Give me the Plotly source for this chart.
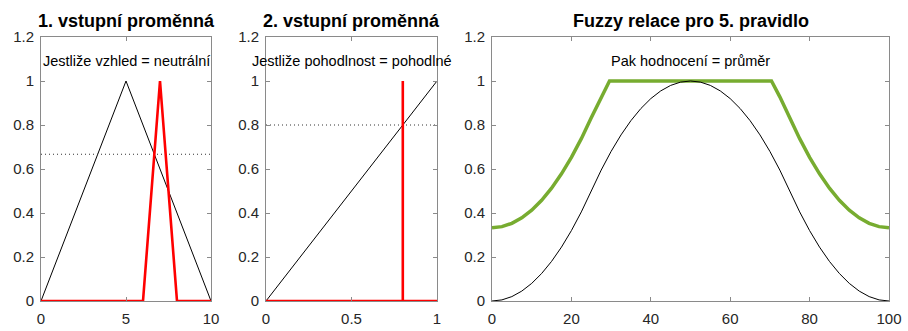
import plotly.graph_objects as go

# ---------------- data ----------------
# panel 1: input variable 1 (vzhled)
p1_mf_x = [0, 5, 10]
p1_mf_y = [0, 1, 0]
p1_in_x = [0, 6, 7, 8, 10]
p1_in_y = [0, 0, 1, 0, 0]
p1_level = 0.667

# panel 2: input variable 2 (pohodlnost)
p2_mf_x = [0, 1]
p2_mf_y = [0, 1]
p2_in_x = [0, 0.8, 0.8, 0.8, 1]
p2_in_y = [0, 0, 1, 0, 0]
p2_level = 0.8

# panel 3: output membership (průměr) and fuzzy relation
p3_x = [0, 2.5, 5, 7.5, 10, 12.5, 15, 17.5, 20, 22.5, 25, 27.5, 30, 32.5, 35, 37.5, 40,
        42.5, 45, 47.5, 50, 52.5, 55, 57.5, 60, 62.5, 65, 67.5, 70, 72.5, 75, 77.5, 80,
        82.5, 85, 87.5, 90, 92.5, 95, 97.5, 100]
p3_mf = [0, 0.005, 0.02, 0.045, 0.08, 0.125, 0.18, 0.245, 0.32, 0.405, 0.5, 0.595, 0.68,
         0.755, 0.82, 0.875, 0.92, 0.955, 0.98, 0.995, 1.0, 0.995, 0.98, 0.955, 0.92,
         0.875, 0.82, 0.755, 0.68, 0.595, 0.5, 0.405, 0.32, 0.245, 0.18, 0.125, 0.08,
         0.045, 0.02, 0.005, 0]
rel_x = [0, 2.5, 5, 7.5, 10, 12.5, 15, 17.5, 20, 22.5, 25, 27.5, 29.6, 70.4, 72.5, 75,
         77.5, 80, 82.5, 85, 87.5, 90, 92.5, 95, 97.5, 100]
rel_y = [0.333, 0.338, 0.353, 0.378, 0.413, 0.458, 0.513, 0.578, 0.653, 0.738, 0.833,
         0.928, 1.0, 1.0, 0.928, 0.833, 0.738, 0.653, 0.578, 0.513, 0.458, 0.413, 0.378,
         0.353, 0.338, 0.333]

titles = ["1. vstupní proměnná", "2. vstupní proměnná", "Fuzzy relace pro 5. pravidlo"]
labels = ["Jestliže vzhled = neutrální", "Jestliže pohodlnost = pohodlné", "Pak hodnocení = průměr"]

x_ticks = [[0, 5, 10], [0, 0.5, 1], [0, 20, 40, 60, 80, 100]]
x_tick_text = [["0", "5", "10"], ["0", "0.5", "1"], ["0", "20", "40", "60", "80", "100"]]
x_ranges = [[0, 10], [0, 1], [0, 100]]
y_ticks = [0, 0.2, 0.4, 0.6, 0.8, 1.0, 1.2]
y_tick_text = ["0", "0.2", "0.4", "0.6", "0.8", "1", "1.2"]

# ---------------- figure ----------------
W, H = 908, 331
FONT = "Liberation Sans, Arial, sans-serif"
RED = "#ff0000"
GREEN = "#77ac30"

fig = go.Figure()

def line(x, y, ax, color, width, dash=None):
    fig.add_trace(go.Scatter(x=x, y=y, mode="lines", xaxis="x" + ax, yaxis="y" + ax,
                             line=dict(color=color, width=width, dash=dash),
                             showlegend=False, hoverinfo="skip"))

# panel 1
line(p1_mf_x, p1_mf_y, "", "#000000", 1)
line([x_ranges[0][0], x_ranges[0][1]], [p1_level, p1_level], "", "#333333", 1, "1px,3px")
line(p1_in_x, p1_in_y, "", RED, 2.6)
# panel 2
line(p2_mf_x, p2_mf_y, "2", "#000000", 1)
line([x_ranges[1][0], x_ranges[1][1]], [p2_level, p2_level], "2", "#333333", 1, "1px,3px")
line(p2_in_x, p2_in_y, "2", RED, 2.6)
# panel 3
line(rel_x, rel_y, "3", GREEN, 3.5)
line(p3_x, p3_mf, "3", "#000000", 1)

x_dom = [[41 / W, 211 / W], [266 / W, 437 / W], [492 / W, 889 / W]]
y_dom = [30 / H, 294 / H]

layout = dict(
    autosize=True,
    margin=dict(l=0, r=0, t=0, b=0, pad=0),
    paper_bgcolor="white", plot_bgcolor="white",
    font=dict(family=FONT, color="#262626"),
    showlegend=False,
)
axis_common = dict(showgrid=False, zeroline=False, showline=True, linecolor="#8a8a8a",
                   linewidth=1, mirror="ticks", ticks="inside", ticklen=4, tickcolor="#8a8a8a",
                   tickfont=dict(size=15, family=FONT, color="#262626"), fixedrange=True,
                   automargin=False)
annotations = []
for i in range(3):
    sfx = "" if i == 0 else str(i + 1)
    layout["xaxis" + sfx] = dict(axis_common, domain=x_dom[i], range=x_ranges[i],
                                 tickvals=x_ticks[i], ticktext=x_tick_text[i],
                                 anchor="y" + sfx, ticklabelstandoff=4)
    layout["yaxis" + sfx] = dict(axis_common, domain=y_dom, range=[0, 1.2],
                                 tickvals=y_ticks, ticktext=y_tick_text,
                                 anchor="x" + sfx, ticklabelstandoff=3)
    cx = (x_dom[i][0] + x_dom[i][1]) / 2
    annotations.append(dict(text="<b>" + titles[i] + "</b>", xref="paper", yref="paper",
                            x=cx, y=(H - 21.5) / H, xanchor="center", yanchor="middle",
                            showarrow=False, font=dict(size=18, family=FONT, color="#000000")))
    mid = (x_ranges[i][0] + x_ranges[i][1]) / 2
    annotations.append(dict(text=labels[i], xref="x" + sfx, yref="y" + sfx,
                            x=mid, y=1.092, xanchor="center", yanchor="middle",
                            showarrow=False, font=dict(size=14.5, family=FONT, color="#000000")))
layout["annotations"] = annotations
fig.update_layout(**layout)

fig.write_html("out.html",
               config={"displayModeBar": False, "responsive": True},
               default_width="100vw", default_height="100vh",
               post_script=("document.documentElement.style.margin='0';"
                            "document.documentElement.style.overflow='hidden';"
                            "document.body.style.margin='0';"
                            "document.body.style.overflow='hidden';"
                            "Plotly.Plots.resize(document.getElementById('{plot_id}'));"))
